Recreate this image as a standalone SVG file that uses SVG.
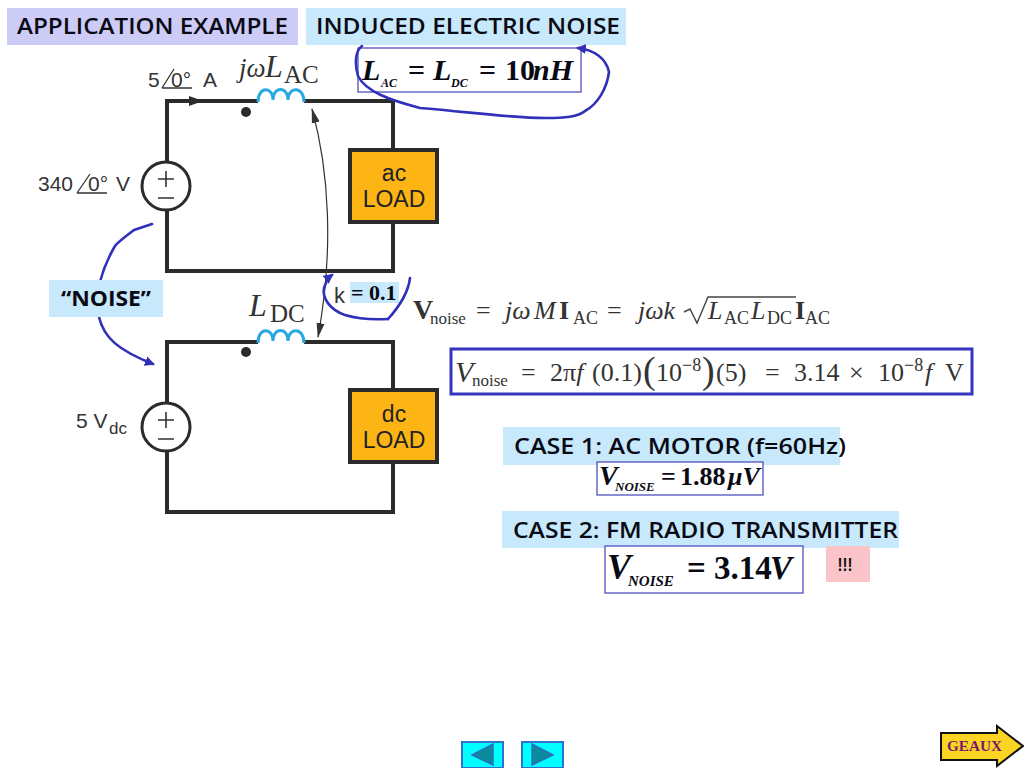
<svg xmlns="http://www.w3.org/2000/svg" width="1024" height="768" viewBox="0 0 1024 768">
<style>
.h{font-family:"Open Sans","DejaVu Sans",sans-serif;font-weight:600;font-size:22px;fill:#0a0a14}
.w{fill:none;stroke:#2b2b2b;stroke-width:4}
.c{fill:none;stroke:#2aa9e0;stroke-width:3}
.s{fill:none;stroke:#3030b8;stroke-width:2.6;stroke-linecap:round;stroke-linejoin:round}
.a{font-family:"Liberation Sans",sans-serif;fill:#333}
.l{font-family:"Liberation Sans",sans-serif;font-size:23px;fill:#222;text-anchor:middle}
.m{font-family:"Liberation Serif",serif;fill:#333}
.r{font-size:26px}
.u{font-size:18px}
.i{font-style:italic}
.b{font-family:"Liberation Serif",serif;font-weight:bold;font-style:italic;fill:#0a0a14}
.n{font-style:normal}
.bx{fill:#fff;stroke:#5050c0;stroke-width:1.3}
.load{fill:#fdb515;stroke:#2b2b2b;stroke-width:4}
.src{fill:#fff;stroke:#2b2b2b;stroke-width:3}
.sym{fill:none;stroke:#333;stroke-width:1.6}
.nb{fill:#00ffff;stroke:#3070d0;stroke-width:2}
.nt{fill:#0a8a9a;stroke:#2a70c0;stroke-width:1.5}
</style>
<defs>
<marker id="ah" markerWidth="16" markerHeight="12" refX="14" refY="5" orient="auto-start-reverse" markerUnits="userSpaceOnUse"><path d="M0 1L15 5L0 9Z" fill="#333"/></marker>
<marker id="bh" markerWidth="12" markerHeight="12" refX="8" refY="5" orient="auto" markerUnits="userSpaceOnUse"><path d="M0 0L10 5L0 10Z" fill="#3030b8"/></marker>
</defs>

<g id="title-1"><rect x="7" y="8" width="291" height="37" fill="#ccccf6"/><text class="h" x="17" y="34" textLength="271" lengthAdjust="spacingAndGlyphs">APPLICATION EXAMPLE</text></g>
<g id="title-2"><rect x="306" y="8" width="320" height="37" fill="#c8e8fb"/><text class="h" x="316" y="34" textLength="304" lengthAdjust="spacingAndGlyphs">INDUCED ELECTRIC NOISE</text></g>

<g id="lac-eq"><rect class="bx" x="358" y="48" width="223" height="44"/>
<text class="b" font-size="30" x="362" y="80">L</text><text class="b" font-size="12" x="381" y="87">AC</text>
<text class="b n" font-size="30" x="408" y="80">=</text>
<text class="b" font-size="30" x="433" y="80">L</text><text class="b" font-size="12" x="451" y="87">DC</text>
<text class="b n" font-size="30" x="479" y="80">=</text>
<text class="b n" font-size="30" x="505" y="80">10</text><text class="b" font-size="30" x="533" y="80">nH</text></g>

<g id="ac-circuit">
<path class="w" d="M258 101H167V162M167 210V271H393V223M393 149V101H304"/>
<path d="M189 96L203 101L189 106Z" fill="#2b2b2b"/>
<path class="c" d="M258 102C258 86 273 86 273 100C273 86 288 86 288 100C288 86 304 86 304 102"/>
<circle cx="246" cy="112" r="5" fill="#2b2b2b"/>
<text class="a" font-size="21" x="148" y="87">5</text><text class="a" font-size="21" x="171" y="87">0°</text><text class="a" font-size="21" x="203" y="87">A</text>
<path d="M162 88L174 69M162 88H192" fill="none" stroke="#333" stroke-width="1.3"/>
<text class="m i" font-size="27" x="239" y="77">jω</text><text class="m i" font-size="32" x="265" y="77">L</text><text class="m" font-size="25" x="284" y="83">AC</text>
</g>
<g id="ac-source"><circle class="src" cx="166" cy="186" r="24"/><path class="sym" d="M166 171V187M158 179H174M158 198H174"/>
<text class="a" font-size="21" x="38" y="191">340</text><text class="a" font-size="21" x="88" y="191">0°</text><text class="a" font-size="21" x="116" y="191">V</text><path d="M77 193L90 174M77 193H107" fill="none" stroke="#333" stroke-width="1.3"/></g>
<g id="ac-load"><rect class="load" x="350" y="150" width="87" height="72"/><text class="l" x="394" y="181">ac</text><text class="l" x="394" y="207">LOAD</text></g>

<g id="dc-circuit">
<path class="w" d="M258 342H167V403M167 451V512H393V463M393 389V342H304"/>
<path class="c" d="M258 343C258 327 273 327 273 341C273 327 288 327 288 341C288 327 304 327 304 343"/>
<circle cx="246" cy="352" r="5" fill="#2b2b2b"/>
<text class="m i" font-size="32" x="249" y="316">L</text><text class="m" font-size="25" x="270" y="322">DC</text>
</g>
<g id="dc-source"><circle class="src" cx="166" cy="427" r="24"/><path class="sym" d="M166 412V428M158 420H174M158 439H174"/>
<text class="a" font-size="21" x="76" y="428">5 V</text><text class="a" font-size="17" x="109" y="434">dc</text></g>
<g id="dc-load"><rect class="load" x="350" y="390" width="87" height="72"/><text class="l" x="394" y="422">dc</text><text class="l" x="394" y="448">LOAD</text></g>

<g id="connectors">
<path d="M312 109C329 170 334 250 318 337" fill="none" stroke="#333" stroke-width="1.2" marker-start="url(#ah)" marker-end="url(#ah)"/>
<path class="s" d="M362 46C356 50 354 62 358 76C366 92 390 100 420 108C470 112 510 118 545 118C565 118 578 117 585 111C598 104 607 88 609 72C606 58 594 50 578 48" marker-end="url(#bh)"/>
<path class="s" d="M152 224L134 230C126 236 118 242 115 246C108 258 103 270 100 282"/>
<path class="s" d="M99 317C104 338 118 350 153 364" marker-end="url(#bh)"/>
<path class="s" d="M388 319C370 320 355 318 345 315C330 310 322 298 324 288C326 282 328 278 332 275" marker-end="url(#bh)"/>
<path class="s" d="M388 319C398 308 408 295 410 278"/>
</g>

<g id="noise-label"><rect x="49" y="280" width="114" height="37" fill="#c8e8fb"/><text x="106" y="306" text-anchor="middle" font-family="Open Sans,sans-serif" font-weight="700" font-size="22" fill="#0a0a14" textLength="90" lengthAdjust="spacingAndGlyphs">“NOISE”</text></g>
<g id="k-label"><rect x="350" y="282" width="49" height="21" fill="#c8e8fb"/><text class="a" font-size="22" x="334" y="303">k</text><text font-family="Liberation Serif,serif" font-weight="bold" font-size="22" x="351" y="300" fill="#0a0a14">= 0.1</text></g>

<g id="noise-eq">
<text class="m" x="413" y="319" font-weight="bold" font-size="28">V</text><text class="m" font-size="17" x="430" y="324">noise</text>
<text class="m r" x="476" y="319">=</text>
<text class="m r i" x="505" y="319">jω</text><text class="m r i" x="534" y="319">M</text><text class="m r" x="559" y="319" font-weight="bold">I</text><text class="m u" x="573" y="324">AC</text>
<text class="m r" x="607" y="319">=</text>
<text class="m r i" x="638" y="319">jωk</text>
<path d="M684 312L690 309L697 323L708 297H796" fill="none" stroke="#444" stroke-width="1.4"/>
<text class="m r i" x="708" y="319">L</text><text class="m u" x="724" y="324">AC</text><text class="m r i" x="751" y="319">L</text><text class="m u" x="767" y="324">DC</text>
<text class="m r" x="795" y="319" font-weight="bold">I</text><text class="m u" x="805" y="324">AC</text>
</g>

<g id="noise-result"><rect x="451" y="349" width="521" height="45" fill="#fff" stroke="#3535c0" stroke-width="3"/>
<text class="m i" x="455" y="382" font-size="30">V</text><text class="m" font-size="17" x="472" y="386">noise</text>
<text class="m r" x="521" y="381">=</text>
<text class="m r" x="550" y="381">2π<tspan class="i">f</tspan></text>
<text class="m r" x="592" y="381">(0.1)</text>
<text class="m" x="643" y="383" font-size="38">(</text><text class="m r" x="656" y="381">10</text><text class="m u" x="682" y="371">−8</text><text class="m" x="702" y="383" font-size="38">)</text><text class="m r" x="716" y="381">(5)</text>
<text class="m r" x="765" y="381">=</text>
<text class="m r" x="794" y="381">3.14</text>
<text class="m r" x="849" y="381">×</text>
<text class="m r" x="878" y="381">10</text><text class="m u" x="904" y="371">−8</text><text class="m r i" x="925" y="381">f</text>
<text class="m r" x="945" y="381">V</text></g>

<g id="case-1"><rect x="503" y="427" width="337" height="38" fill="#c8e8fb"/><text class="h" x="514" y="454" textLength="332" lengthAdjust="spacingAndGlyphs">CASE 1: AC MOTOR (f=60Hz)</text></g>
<g id="case-1-result"><rect class="bx" x="597" y="462" width="166" height="33"/>
<text class="b" font-size="28" x="599" y="485">V</text><text class="b" font-size="13" x="615" y="491">NOISE</text>
<text class="b n" font-size="26" x="661" y="485">=</text><text class="b n" font-size="26" x="680" y="485">1.88</text><text class="b" font-size="26" x="728" y="485">μV</text></g>

<g id="case-2"><rect x="502" y="511" width="397" height="37" fill="#c8e8fb"/><text class="h" x="513" y="538" textLength="385" lengthAdjust="spacingAndGlyphs">CASE 2: FM RADIO TRANSMITTER</text></g>
<g id="case-2-result"><rect class="bx" x="605" y="546" width="198" height="47"/>
<text class="b" font-size="36" x="607" y="579">V</text><text class="b" font-size="15" x="628" y="586">NOISE</text>
<text class="b n" font-size="33" x="687" y="579">=</text><text class="b n" font-size="33" x="714" y="579">3.14</text><text class="b" font-size="33" x="770" y="579">V</text></g>
<g id="alert"><rect x="826" y="546" width="44" height="36" fill="#fbc4c8"/><text font-family="Liberation Sans,sans-serif" font-weight="bold" font-size="19" x="845" y="571" text-anchor="middle" fill="#111" textLength="15" lengthAdjust="spacingAndGlyphs">!!!</text></g>

<g id="nav-back"><rect class="nb" x="462" y="742" width="41" height="26"/><path class="nt" d="M472 755L493 744V765Z"/></g>
<g id="nav-forward"><rect class="nb" x="522" y="742" width="41" height="26"/><path class="nt" d="M553 755L532 744V765Z"/></g>
<g id="geaux"><path d="M941 733H997V726L1023 746L997 766V760H941Z" fill="#f9d423" stroke="#111" stroke-width="2"/><text font-family="Liberation Serif,serif" font-weight="bold" font-size="14" x="947" y="751" fill="#7a1a6a" textLength="55" lengthAdjust="spacingAndGlyphs">GEAUX</text></g>
</svg>
